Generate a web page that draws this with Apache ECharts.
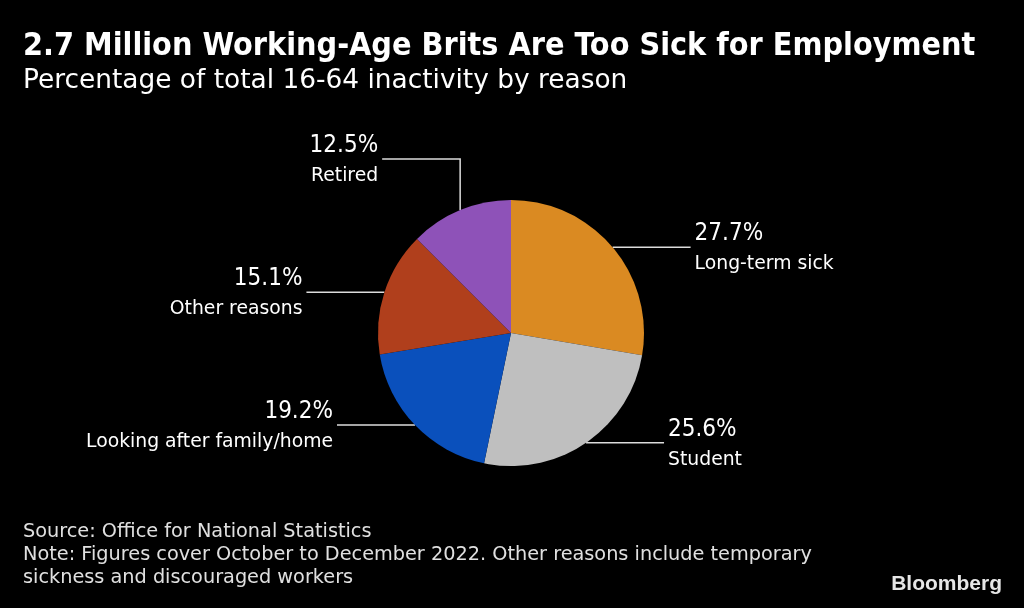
<!DOCTYPE html>
<html>
<head>
<meta charset="utf-8">
<script src="https://cdn.jsdelivr.net/npm/echarts@6/dist/echarts.min.js"></script>
<style>
html,body{margin:0;padding:0;background:#000;}
#chart{width:1024px;height:608px;}
</style>
</head>
<body>
<div id="chart"></div>
<script>
const categories = ['Long-term sick', 'Student', 'Looking after family/home', 'Other reasons', 'Retired'];
const shares = [27.7, 25.6, 19.2, 15.1, 12.5];
const sliceColors = ['#DA8A22', '#BFBFBF', '#0A50BC', '#B03F1C', '#8E52B8'];
const verticalLeader = 'Retired';

const titleText = '2.7 Million Working-Age Brits Are Too Sick for Employment';
const subtitleText = 'Percentage of total 16-64 inactivity by reason';
const footerText = 'Source: Office for National Statistics\nNote: Figures cover October to December 2022. Other reasons include temporary\nsickness and discouraged workers';

const COND = '"DejaVu Sans Condensed", "DejaVu Sans", sans-serif';
const REG = '"DejaVu Sans", sans-serif';

const chart = echarts.init(document.getElementById('chart'));
chart.setOption({
  backgroundColor: '#000000',
  animation: false,
  title: [
    { text: titleText, left: 23, top: 31, padding: 0,
      textStyle: { color: '#ffffff', fontFamily: COND, fontWeight: 'bold', fontSize: 32 } },
    { text: subtitleText, left: 23, top: 68, padding: 0,
      textStyle: { color: '#ffffff', fontFamily: REG, fontWeight: 'normal', fontSize: 26.4 } },
    { text: footerText, left: 23, top: 520, padding: 0,
      textStyle: { color: '#e0e0e0', fontFamily: REG, fontWeight: 'normal', fontSize: 19.3, lineHeight: 23 } },
    { text: 'Bloomberg', right: 22, top: 574, padding: 0,
      textStyle: { color: '#e6e6e6', fontFamily: '"Liberation Sans", Arial, sans-serif', fontWeight: 'bold', fontSize: 21 } }
  ],
  series: [{
    type: 'pie',
    center: [511, 333],
    radius: 133,
    startAngle: 90,
    clockwise: true,
    avoidLabelOverlap: false,
    silent: true,
    data: categories.map((name, i) => ({ name: name, value: shares[i], itemStyle: { color: sliceColors[i] } })),
    itemStyle: { borderWidth: 0 },
    label: {
      show: true,
      formatter: '{v|{c}%}\n{n|{b}}',
      color: '#ffffff',
      fontFamily: COND,
      rich: {
        v: { fontSize: 24, lineHeight: 30, color: '#ffffff', fontFamily: COND },
        n: { fontSize: 18.8, lineHeight: 30, color: '#ffffff', fontFamily: REG }
      }
    },
    labelLine: {
      show: true, length: 10, length2: 60, smooth: false,
      lineStyle: { color: '#dcdcdc', width: 1.5 }
    },
    labelLayout: function (p) {
      const pts = p.labelLinePoints;
      if (!pts || !pts.length) return {};
      const a = pts[0];
      const name = categories[p.dataIndex];
      const L = 78;
      if (name === verticalLeader) {
        const yTop = a[1] - 51;
        const end = [a[0] - L, yTop];
        return { x: end[0] - 4, y: yTop + 2, align: 'right', verticalAlign: 'middle',
                 labelLinePoints: [a, [a[0], yTop], end] };
      }
      const dir = pts[pts.length - 1][0] >= a[0] ? 1 : -1;
      const end = [a[0] + dir * L, a[1]];
      return { x: end[0] + dir * 4, y: a[1] + 2, align: dir > 0 ? 'left' : 'right', verticalAlign: 'middle',
               labelLinePoints: [a, [(a[0] + end[0]) / 2, a[1]], end] };
    }
  }]
});
</script>
</body>
</html>
